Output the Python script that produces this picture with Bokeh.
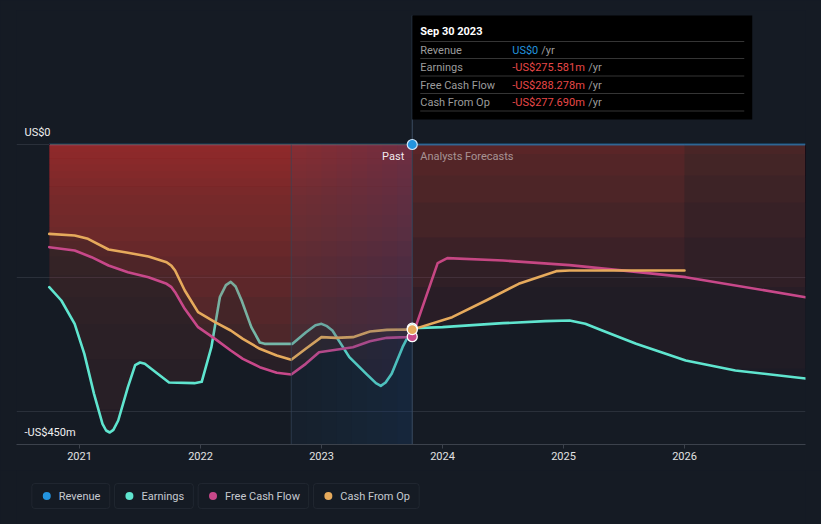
import numpy as np
from bokeh.plotting import figure
from bokeh.models import Range1d, FixedTicker, BoxAnnotation
from bokeh.layouts import column
from bokeh.core.properties import value
from bokeh.embed import file_html
from bokeh.resources import INLINE

# ---------------- data (decimal years, US$ millions) ----------------
SERIES = ["Revenue", "Earnings", "Free Cash Flow", "Cash From Op"]
COLORS = ["#2394df", "#5fe5cf", "#c8488a", "#e6aa5c"]

TICK_YEARS = [2021, 2022, 2023, 2024, 2025, 2026]
Y_LABEL_VALUES = [0, -450]
Y_LABEL_TEXTS = ["US$0", "-US$450m"]

NOW = 2023.75            # Sep 30 2023 (last reported)
HIGHLIGHT_START = 2022.75
TOOLTIP_DATE = "Sep 30 2023"
TOOLTIP_VALUES = ["US$0", "-US$275.581m", "-US$288.278m", "-US$277.690m"]

rev_x = [2020.75, 2023.75, 2027.0]
rev_y = [0.0, 0.0, 0.0]

earn_x = [2020.75, 2020.85, 2020.96, 2021.04, 2021.12, 2021.19, 2021.22, 2021.25,
          2021.28, 2021.32, 2021.40, 2021.46, 2021.50, 2021.54, 2021.59, 2021.74,
          2021.95, 2022.01, 2022.09, 2022.16, 2022.21, 2022.25, 2022.29, 2022.34,
          2022.42, 2022.49, 2022.53, 2022.76, 2022.87, 2022.95, 2023.00, 2023.04,
          2023.09, 2023.23, 2023.37, 2023.45, 2023.49, 2023.53, 2023.58, 2023.67,
          2023.75,
          2024.00, 2024.50, 2024.85, 2025.05, 2025.18, 2025.32, 2025.60, 2026.01,
          2026.42, 2027.0]
earn_y = [-214, -234, -269, -314, -374, -419, -429, -432,
          -428, -414, -364, -331, -327, -329, -336, -357,
          -358, -356, -304, -229, -211, -206, -213, -234,
          -274, -297, -299, -299, -282, -271, -269, -272,
          -279, -319, -344, -358, -362, -357, -344, -304,
          -275.581,
          -274, -268, -265, -264, -269, -279, -299, -324,
          -339, -351]

fcf_x = [2020.75, 2020.96, 2021.10, 2021.24, 2021.40, 2021.57, 2021.72, 2021.76,
         2021.79, 2021.87, 2021.98, 2022.12, 2022.25, 2022.35, 2022.49, 2022.63,
         2022.75, 2022.87, 2022.98, 2023.12, 2023.26, 2023.40, 2023.54, 2023.70,
         2023.75, 2023.96, 2024.04, 2024.50, 2025.05, 2025.60, 2026.01, 2027.0]
fcf_y = [-154, -159, -169, -181.5, -191.5, -199, -209, -214,
         -221.5, -246.5, -274, -291.5, -309, -321.5, -334, -342.5,
         -345, -329, -311.5, -308, -304, -295, -290, -289,
         -288.278, -178, -170.5, -174, -181, -191, -199, -229]

cfo_x = [2020.75, 2020.96, 2021.07, 2021.24, 2021.40, 2021.57, 2021.72, 2021.76,
         2021.79, 2021.87, 2021.98, 2022.12, 2022.25, 2022.35, 2022.49, 2022.63,
         2022.75, 2022.87, 2023.00, 2023.12, 2023.26, 2023.40, 2023.54, 2023.70,
         2023.75, 2024.08, 2024.36, 2024.63, 2024.94, 2025.05, 2026.0]
cfo_y = [-134, -136.5, -141.5, -157.5, -162.5, -168, -176.5, -182,
         -189, -219, -251.5, -266.5, -279, -291.5, -306.5, -316.5,
         -323, -306.5, -289, -290, -289, -280.5, -278, -277.5,
         -277.69, -259, -234, -209, -190, -189, -189]

# ---------------- styling ----------------
FONT = "Roboto"
BG = "#151b24"
RED = "#c43d43"
OVERLAY = "#1d5a94"
GRID = "#2a303a"
AXIS = "#3c424c"

W = 821
H_MAIN = 470
H_LEG = 54
FRAME_W = 789
PX_PER_YEAR = 121.0
X_END = 2027.0
X_START = X_END - FRAME_W / PX_PER_YEAR
Y_MIN, Y_MAX = -450, 201


def py2v(py):
    # page pixel row -> data value (layout helper for annotations)
    return (144 - py) * 1.5


p = figure(width=W, height=H_MAIN, x_range=Range1d(X_START, X_END),
           y_range=Range1d(Y_MIN, Y_MAX), output_backend="svg",
           toolbar_location=None, min_border_left=16, min_border_right=16,
           min_border_top=10, min_border_bottom=26,
           background_fill_color=BG, border_fill_color=BG,
           outline_line_color=None, y_axis_location=None)

p.xgrid.visible = False
p.ygrid.ticker = FixedTicker(ticks=[-400, -200, 0])
p.ygrid.grid_line_color = GRID
p.ygrid.grid_line_width = 1

xa = p.xaxis[0]
xa.ticker = FixedTicker(ticks=TICK_YEARS)
xa.major_label_overrides = {y: str(y) for y in TICK_YEARS}
xa.axis_line_color = AXIS
xa.major_tick_line_color = AXIS
xa.major_tick_out = 4
xa.major_tick_in = 0
xa.minor_tick_line_color = None
xa.major_label_standoff = 3
xa.major_label_text_font = FONT
xa.major_label_text_font_size = "11px"
xa.major_label_text_color = "#e2e2e2"


def alpha_target(depth):
    return 0.05 + 0.42 * np.exp(-np.asarray(depth, float) / 200.0)


def add_fill(xs, ys, x0, x1, scale, dL=0.03):
    """Vertical gradient fill from 0 down to the series, built from stacked
    translucent layers (each layer reaches a little deeper)."""
    xs = np.asarray(xs, float)
    ys = np.asarray(ys, float)
    grid = np.arange(x0, x1, 0.02)
    xd = np.unique(np.concatenate([grid, xs[(xs >= x0) & (xs <= x1)], [x0, x1]]))
    yd = np.interp(xd, xs, ys)
    dg = np.linspace(0, 450, 901)
    L = -np.log(1 - alpha_target(dg) * scale)
    L_base = L[-1]
    n = max(1, int(round((L[0] - L_base) / dL)))
    dl = (L[0] - L_base) / n
    p.varea(x=xd, y1=np.zeros_like(xd), y2=yd, fill_color=RED,
            fill_alpha=1 - np.exp(-L_base))
    for i in range(1, n + 1):
        target = L_base + (i - 0.5) * dl
        d_i = float(np.interp(target, L[::-1], dg[::-1]))
        y2 = np.maximum(yd, -d_i)
        if np.all(y2 >= -1e-9):
            continue
        p.varea(x=xd, y1=np.zeros_like(xd), y2=y2, fill_color=RED,
                fill_alpha=1 - np.exp(-dl))


# revenue line in the past (sits under the fills)
p.line(rev_x[:2], rev_y[:2], line_color=COLORS[0], line_alpha=0.35, line_width=2)

for xs, ys, col in [(earn_x, earn_y, COLORS[1]), (fcf_x, fcf_y, COLORS[2]),
                    (cfo_x, cfo_y, COLORS[3])]:
    add_fill(xs, ys, xs[0], NOW, 1.0)
    add_fill(xs, ys, NOW, xs[-1], 0.4)
    p.line(xs, ys, line_color=col, line_width=2.6, line_join="round", line_cap="round")

# highlighted last-12-months band (horizontal gradient built from a few layers)
n_ov = 8
edges = np.linspace(HIGHLIGHT_START, NOW, n_ov + 1)[:-1]
T = np.linspace(0.09, 0.25, n_ov)
prev = 0.0
for j in range(n_ov):
    a = 1 - (1 - T[j]) / (1 - prev)
    prev = T[j]
    p.quad(left=[edges[j]], right=[NOW], top=[0], bottom=[Y_MIN],
           fill_color=OVERLAY, fill_alpha=a, line_color=None)

# revenue forecast line
p.line(rev_x[1:], rev_y[1:], line_color=COLORS[0], line_alpha=0.55, line_width=2)

# vertical markers
p.segment(x0=[HIGHLIGHT_START], y0=[0], x1=[HIGHLIGHT_START], y1=[Y_MIN],
          line_color="#34465a", line_width=1, line_alpha=0.7)
p.segment(x0=[NOW], y0=[py2v(15)], x1=[NOW], y1=[Y_MIN],
          line_color="#3b4c60", line_width=1)

# texts
for v, t in zip(Y_LABEL_VALUES, Y_LABEL_TEXTS):
    p.text(x=[X_START], y=[v], text=[t], x_offset=8, y_offset=-12,
           text_baseline="middle", text_align="left", text_font=value(FONT),
           text_font_size="11px", text_color="#f0f0f0")

p.text(x=[NOW], y=[0], text=["Past"], x_offset=-8, y_offset=12, text_align="right",
       text_baseline="middle", text_font=value(FONT), text_font_size="11px",
       text_color="#ffffff", text_alpha=0.92)
p.text(x=[NOW], y=[0], text=["Analysts Forecasts"], x_offset=8, y_offset=12,
       text_align="left", text_baseline="middle", text_font=value(FONT),
       text_font_size="11px", text_color="#ffffff", text_alpha=0.5)

# points at the tooltip date
i_e = earn_x.index(NOW)
i_f = fcf_x.index(NOW)
i_c = cfo_x.index(NOW)
p.scatter([NOW], [rev_y[1]], size=10, fill_color=COLORS[0], line_color="#cfe6fa", line_width=1.2)
p.scatter([NOW], [earn_y[i_e]], size=10, fill_color=COLORS[1], line_color="#ffffff", line_width=1.3)
p.scatter([NOW], [fcf_y[i_f]], size=10, fill_color=COLORS[2], line_color="#ffffff", line_width=1.3)
p.scatter([NOW], [cfo_y[i_c]], size=10, fill_color=COLORS[3], line_color="#ffffff", line_width=1.3)

# tooltip box
TIP_W = 340 / PX_PER_YEAR
p.quad(left=[NOW], right=[NOW + TIP_W], top=[py2v(15)], bottom=[py2v(119)],
       fill_color="#000000", line_color=None)
p.text(x=[NOW], y=[py2v(31)], text=[TOOLTIP_DATE], x_offset=8, text_baseline="middle",
       text_font=value(FONT), text_font_size="11px", text_color="#ffffff",
       text_font_style="bold")
sep_rows = [41, 58, 75.5, 93, 110.5]
for r in sep_rows:
    p.segment(x0=[NOW + 8 / PX_PER_YEAR], y0=[py2v(r)], x1=[NOW + 332 / PX_PER_YEAR],
              y1=[py2v(r)], line_color="#353535", line_width=1)
row_y = [49.5, 67, 84.5, 101.5]
yr_off = [129, 176, 176, 176]
for i, name in enumerate(SERIES):
    p.text(x=[NOW], y=[py2v(row_y[i])], text=[name], x_offset=8, text_baseline="middle",
           text_font=value(FONT), text_font_size="11px", text_color="#9c9c9c")
    p.text(x=[NOW], y=[py2v(row_y[i])], text=[TOOLTIP_VALUES[i]], x_offset=100,
           text_baseline="middle", text_font=value(FONT), text_font_size="11px",
           text_color=("#2394df" if i == 0 else "#e84848"))
    p.text(x=[NOW], y=[py2v(row_y[i])], text=["/yr"], x_offset=yr_off[i],
           text_baseline="middle", text_font=value(FONT), text_font_size="11px",
           text_color="#9c9c9c")

# ---------------- legend ----------------
leg = figure(width=W, height=H_LEG, x_range=Range1d(0, W), y_range=Range1d(H_MAIN + H_LEG, H_MAIN),
             output_backend="svg", toolbar_location=None, min_border=0,
             min_border_left=0, min_border_right=0, min_border_top=0, min_border_bottom=0,
             background_fill_color=BG, border_fill_color=BG, outline_line_color=None,
             x_axis_location=None, y_axis_location=None)
leg.grid.visible = False
BOX_L = [16, 102, 189, 309]
BOX_R = [97, 184, 304, 419]
for i, name in enumerate(SERIES):
    leg.add_layout(BoxAnnotation(left=BOX_L[i], right=BOX_R[i], top=483, bottom=508,
                                 fill_alpha=0, line_color=AXIS, line_width=1,
                                 border_radius=3))
    leg.scatter([BOX_L[i] + 15.5], [495.5], size=8, fill_color=COLORS[i], line_color=None)
    leg.text(x=[BOX_L[i] + 28], y=[496], text=[name], text_baseline="middle",
             text_font=value(FONT), text_font_size="11px", text_color="#c6cad0")

layout = column(p, leg)

html = None
try:
    from bokeh.core.templates import FILE
    tmpl = FILE.environment.from_string(
        '{% extends "file.html" %}{% block postamble %}{{ super() }}'
        '<style>html,body{background:' + BG + ';margin:0;padding:0;}</style>{% endblock %}')
    html = file_html(layout, INLINE, template=tmpl)
except Exception:
    html = file_html(layout, INLINE)
open("out.html", "w").write(html)
